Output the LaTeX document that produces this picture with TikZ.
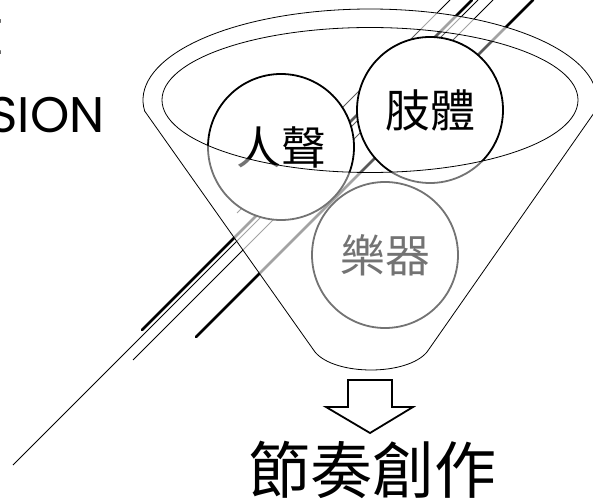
\documentclass[tikz,border=0pt]{standalone}
\usepackage{fontspec}
\setmainfont{Poppins}
\newfontfamily\cjk{Noto Sans CJK TC}
\tikzset{
  part/.style={circle, draw=black, line width=1.8pt, fill=white, minimum size=146pt, inner sep=0pt, font=\cjk\fontsize{45}{45}\selectfont},
  deco/.style={line width=0.8pt},
  decothick/.style={line width=2.8pt, line cap=round},
  veil/.style={fill=white, fill opacity=0.45},
}
\begin{document}
\begin{tikzpicture}[x=1pt,y=-1pt]
  \useasboundingbox (0,0) rectangle (593,502);

  % heading, cut off at the left edge
  \node[anchor=base east, font=\fontsize{50}{50}\selectfont] (headA) at (8,55) {E};
  \node[anchor=base east, font=\fontsize{50}{50}\selectfont] (headB) at (108,133) {SION};

  % slanted lines behind the funnel
  \draw[decothick] (142,330) -- (472,0);
  \draw[deco] (13,465) -- (478,0);
  \draw[deco] (133,360) -- (493,0);
  \draw[decothick] (196,337) -- (533,0);
  \draw[deco] (237,213) -- (450,0);

  % funnel body
  \path[veil, fill opacity=0.35] (144.7,111.1) -- (315,352) .. controls (335,376) and (407,376) .. (427,352) -- (595.3,111.1)
    arc[start angle=7, end angle=-187, x radius=227, y radius=91] -- cycle;

  % the three parts
  \node[part] (voice) at (281,147) {人聲};
  \node[part] (body) at (430,110) {肢體};
  \node[part] (instrument) at (385,255) {樂器};

  % fade everything outside the rim
  \path[veil, even odd rule] (144.7,111.1) -- (315,352) .. controls (335,376) and (407,376) .. (427,352) -- (595.3,111.1)
    arc[start angle=7, end angle=-187, x radius=227, y radius=91] -- cycle
    (370,100) ellipse[x radius=208, y radius=72.5];

  \draw[line width=0.8pt] (144.7,111.1) -- (315,352) .. controls (335,376) and (407,376) .. (427,352) -- (595.3,111.1)
    arc[start angle=7, end angle=-187, x radius=227, y radius=91] -- cycle;
  \draw[line width=0.8pt] (370,100) ellipse[x radius=208, y radius=72.5];

  % hollow arrow
  \draw[line width=1.8pt] (348,380) -- (392,380) -- (392,407) -- (413,407) -- (370,433) -- (326,407) -- (348,407) -- cycle;

  \node[font=\cjk\fontsize{62}{62}\selectfont] (result) at (372,470) {節奏創作};
\end{tikzpicture}
\end{document}
